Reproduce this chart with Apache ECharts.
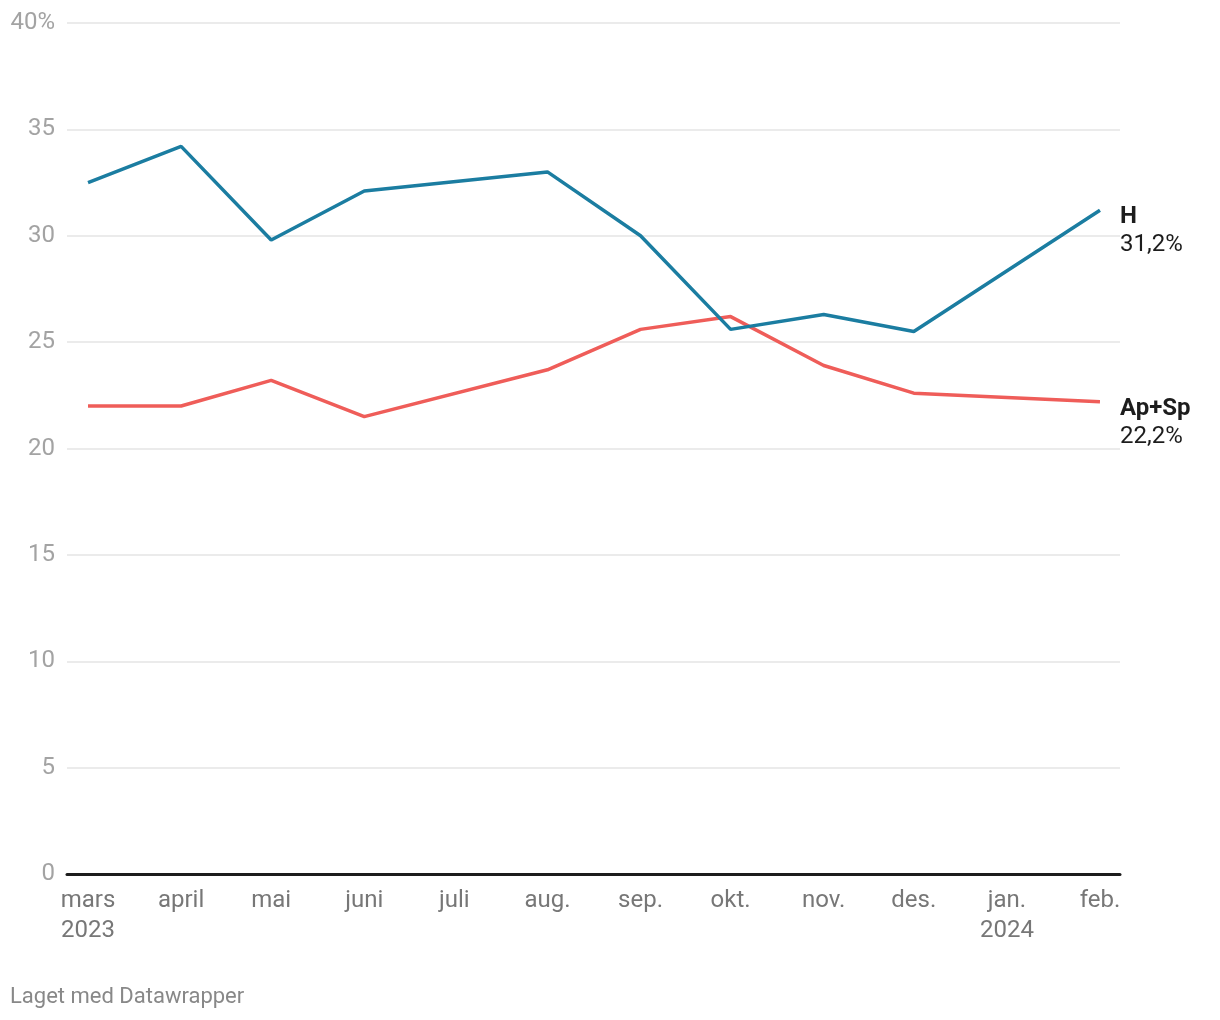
<!DOCTYPE html>
<html>
<head>
<meta charset="utf-8">
<script src="https://cdn.jsdelivr.net/npm/echarts@6/dist/echarts.min.js"></script>
<style>
  html, body { margin: 0; padding: 0; background: #fff; }
  #chart { width: 1220px; height: 1020px; }
</style>
</head>
<body>
<div id="chart"></div>
<script>
// Data (poll dates as year-month, first of month)
const months = ['2023-03','2023-04','2023-05','2023-06','2023-08','2023-09','2023-10','2023-11','2023-12','2024-02'];
const hValues = [32.5, 34.2, 29.8, 32.1, 33.0, 30.0, 25.6, 26.3, 25.5, 31.2];
const apValues = [22.0, 22.0, 23.2, 21.5, 23.7, 25.6, 26.2, 23.9, 22.6, 22.2];
const seriesNames = ['H', 'Ap+Sp'];
const endValueLabels = ['31,2%', '22,2%'];
const monthNames = ['jan.','feb.','mars','april','mai','juni','juli','aug.','sep.','okt.','nov.','des.'];
const yTicks = [0, 5, 10, 15, 20, 25, 30, 35, 40];

function ts(ym) {
  const [y, m] = ym.split('-').map(Number);
  return Date.UTC(y, m - 1, 1);
}
const hData = months.map((m, i) => [ts(m), hValues[i]]);
const apData = months.map((m, i) => [ts(m), apValues[i]]);

const chart = echarts.init(document.getElementById('chart'));
const FONT = 'Roboto';

function endLabel(idx) {
  return {
    show: true,
    distance: 20,
    offset: [0, 21],
    align: 'left',
    verticalAlign: 'middle',
    formatter: '{n|' + seriesNames[idx] + '}\n{v|' + endValueLabels[idx] + '}',
    rich: {
      n: { fontFamily: FONT, fontSize: 24, fontWeight: 'bold', color: '#1d1d1d', lineHeight: 28 },
      v: { fontFamily: FONT, fontSize: 24, color: '#1d1d1d', lineHeight: 28 }
    }
  };
}

chart.setOption({
  useUTC: true,
  animation: false,
  backgroundColor: '#ffffff',
  textStyle: { fontFamily: FONT },
  grid: { left: 67, right: 100, top: 23, bottom: 146 },
  xAxis: {
    type: 'time',
    min: Date.UTC(2023, 1, 22),
    max: Date.UTC(2024, 1, 7, 16),
    splitNumber: 12,
    minInterval: 28 * 86400000,
    maxInterval: 31 * 86400000,
    axisLine: { show: true, onZero: false, lineStyle: { color: '#1d1d1d', width: 3 } },
    axisTick: { show: false },
    splitLine: { show: false },
    axisLabel: {
      interval: 0,
      showMinLabel: false,
      showMaxLabel: false,
      hideOverlap: false,
      margin: 12,
      fontFamily: FONT,
      fontSize: 24,
      lineHeight: 30,
      color: '#777777',
      align: 'center',
      formatter: function (value) {
        const d = new Date(value);
        const m = d.getUTCMonth();
        const y = d.getUTCFullYear();
        if (d.getUTCDate() !== 1) return '';
        let s = monthNames[m];
        if ((y === 2023 && m === 2) || (y === 2024 && m === 0)) s += '\n' + y;
        return s;
      }
    }
  },
  yAxis: {
    type: 'value',
    min: yTicks[0],
    max: yTicks[yTicks.length - 1],
    interval: 5,
    axisLine: { show: false },
    axisTick: { show: false },
    splitLine: { show: true, lineStyle: { color: '#e4e4e4', width: 1.5 } },
    axisLabel: {
      margin: 12,
      fontFamily: FONT,
      fontSize: 24,
      color: '#a3a3a3',
      formatter: function (v) { return v === 40 ? '40%' : String(v); }
    }
  },
  series: [
    {
      name: seriesNames[0],
      type: 'line',
      data: hData,
      symbol: 'none',
      lineStyle: { color: '#1b7da1', width: 3.5 },
      itemStyle: { color: '#1b7da1' },
      endLabel: endLabel(0),
      z: 3
    },
    {
      name: seriesNames[1],
      type: 'line',
      data: apData,
      symbol: 'none',
      lineStyle: { color: '#ef5d59', width: 3.5 },
      itemStyle: { color: '#ef5d59' },
      endLabel: endLabel(1),
      z: 2
    }
  ],
  graphic: [
    {
      type: 'text',
      left: 10,
      top: 986,
      style: { text: 'Laget med Datawrapper', fontFamily: FONT, fontSize: 22, fill: '#888888' }
    }
  ]
});
</script>
</body>
</html>
